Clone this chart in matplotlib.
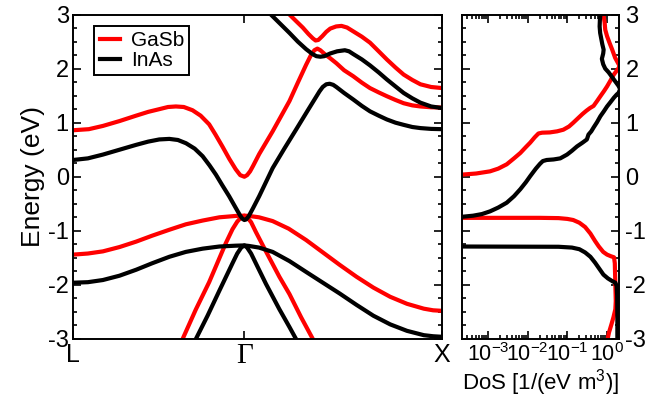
import matplotlib
matplotlib.use("Agg")
import matplotlib.pyplot as plt
import matplotlib.ticker as ticker

# ===================== settings =====================
OUT_FILE = "out.png"
RED = "#ff0000"
BLACK = "#000000"
LW = 3.0

plt.rcParams['font.family'] = ['Liberation Sans', 'DejaVu Sans']
plt.rcParams['mathtext.fontset'] = 'custom'
plt.rcParams['mathtext.rm'] = 'Liberation Sans'
plt.rcParams['mathtext.it'] = 'Liberation Sans:italic'
plt.rcParams['axes.unicode_minus'] = False
# ====================================================

# high-symmetry path L - Gamma - X
K_TICKS = [0.0, 0.866, 1.866]
K_LABELS = ['L', 'Γ', 'X']

# ---- GaSb bands (k, E in eV) ----
gasb_cb_k = [0.000, 0.080, 0.151, 0.235, 0.319, 0.380, 0.436, 0.480, 0.520, 0.560,
             0.604, 0.645, 0.688, 0.720, 0.755, 0.790, 0.822, 0.845, 0.866, 0.880,
             0.895, 0.910, 0.941, 0.975, 1.009, 1.050, 1.094, 1.135, 1.178, 1.204,
             1.220, 1.235, 1.250, 1.275, 1.297, 1.331, 1.370, 1.416, 1.460, 1.501,
             1.545, 1.586, 1.630, 1.671, 1.715, 1.756, 1.810, 1.866]
gasb_cb_e = [0.86, 0.88, 0.94, 1.03, 1.13, 1.20, 1.25, 1.29, 1.30, 1.29,
             1.23, 1.13, 0.97, 0.78, 0.56, 0.33, 0.14, 0.03, 0.00, 0.03,
             0.10, 0.20, 0.42, 0.63, 0.84, 1.11, 1.40, 1.73, 2.07, 2.26,
             2.34, 2.37, 2.34, 2.26, 2.20, 2.10, 1.97, 1.86, 1.74, 1.64,
             1.56, 1.49, 1.42, 1.36, 1.32, 1.30, 1.285, 1.28]

gasb_up_k = [1.060, 1.094, 1.130, 1.161, 1.190, 1.212, 1.226, 1.240, 1.260, 1.280,
             1.300, 1.330, 1.357, 1.385, 1.416, 1.460, 1.501, 1.545, 1.586, 1.630,
             1.671, 1.715, 1.756, 1.810, 1.866]
gasb_up_e = [3.13, 3.00, 2.87, 2.76, 2.64, 2.56, 2.52, 2.53, 2.60, 2.68,
             2.74, 2.78, 2.79, 2.76, 2.69, 2.59, 2.48, 2.32, 2.17, 2.02,
             1.89, 1.79, 1.71, 1.66, 1.64]

gasb_hh_k = [0.000, 0.075, 0.151, 0.235, 0.319, 0.400, 0.487, 0.570, 0.655, 0.740,
             0.822, 0.866, 0.890, 0.940, 1.009, 1.090, 1.178, 1.263, 1.348, 1.433,
             1.518, 1.603, 1.688, 1.773, 1.820, 1.866]
gasb_hh_e = [-1.44, -1.42, -1.38, -1.30, -1.20, -1.09, -0.98, -0.88, -0.81, -0.75,
             -0.725, -0.72, -0.725, -0.75, -0.82, -0.96, -1.17, -1.40, -1.63, -1.85,
             -2.05, -2.22, -2.35, -2.44, -2.47, -2.48]

gasb_lh_k = [0.537, 0.554, 0.620, 0.688, 0.772, 0.806, 0.830, 0.850, 0.866, 0.880,
             0.900, 0.924, 0.975, 1.043, 1.094, 1.153, 1.212, 1.238]
gasb_lh_e = [-3.14, -3.00, -2.46, -1.95, -1.23, -0.97, -0.83, -0.75, -0.72, -0.75,
             -0.84, -1.02, -1.38, -1.85, -2.17, -2.60, -3.00, -3.18]

# ---- InAs bands ----
inas_cb_k = [0.000, 0.075, 0.151, 0.235, 0.319, 0.380, 0.436, 0.487, 0.530, 0.571,
             0.615, 0.655, 0.690, 0.722, 0.755, 0.789, 0.820, 0.845, 0.857, 0.866,
             0.875, 0.888, 0.910, 0.941, 0.975, 1.009, 1.068, 1.127, 1.187, 1.246,
             1.262, 1.280, 1.297, 1.315, 1.331, 1.370, 1.416, 1.460, 1.501, 1.545,
             1.586, 1.630, 1.671, 1.715, 1.756, 1.810, 1.866]
inas_cb_e = [0.31, 0.34, 0.41, 0.50, 0.59, 0.65, 0.69, 0.70, 0.68, 0.62,
             0.52, 0.38, 0.21, 0.04, -0.16, -0.36, -0.56, -0.72, -0.78, -0.80,
             -0.79, -0.73, -0.58, -0.36, -0.10, 0.16, 0.52, 0.87, 1.23, 1.58,
             1.66, 1.71, 1.72, 1.70, 1.66, 1.55, 1.43, 1.31, 1.21, 1.13,
             1.06, 1.00, 0.96, 0.92, 0.90, 0.885, 0.88]

inas_up_k = [0.960, 1.000, 1.047, 1.094, 1.136, 1.178, 1.210, 1.230, 1.250, 1.270,
             1.300, 1.335, 1.374, 1.395, 1.416, 1.460, 1.501, 1.545, 1.586, 1.630,
             1.671, 1.715, 1.756, 1.810, 1.866]
inas_up_e = [3.15, 3.00, 2.83, 2.66, 2.50, 2.36, 2.27, 2.23, 2.22, 2.23,
             2.28, 2.32, 2.34, 2.32, 2.27, 2.17, 2.06, 1.93, 1.80, 1.67,
             1.55, 1.45, 1.37, 1.30, 1.27]

inas_hh_k = [0.000, 0.075, 0.151, 0.235, 0.319, 0.400, 0.487, 0.570, 0.655, 0.740,
             0.822, 0.866, 0.890, 0.940, 1.009, 1.094, 1.178, 1.263, 1.348, 1.433,
             1.518, 1.603, 1.688, 1.773, 1.820, 1.866]
inas_hh_e = [-1.96, -1.95, -1.91, -1.83, -1.72, -1.60, -1.48, -1.39, -1.33, -1.29,
             -1.275, -1.27, -1.28, -1.31, -1.39, -1.56, -1.76, -1.96, -2.16, -2.37,
             -2.57, -2.73, -2.85, -2.93, -2.95, -2.96]

inas_lh_k = [0.604, 0.621, 0.680, 0.738, 0.806, 0.830, 0.850, 0.866, 0.880, 0.900,
             0.924, 0.975, 1.043, 1.094, 1.127, 1.161]
inas_lh_e = [-3.14, -3.00, -2.57, -2.12, -1.60, -1.42, -1.31, -1.27, -1.31, -1.42,
             -1.60, -1.98, -2.45, -2.78, -3.00, -3.25]

# ---- DoS [1/(eV m^3)] vs E ----
gasb_dos_v = [1.5e-4, 2e-2, 6e-2, 0.10, 0.14, 0.20, 0.28, 0.38, 0.50, 0.62,
              0.80, 1.00, 1.25, 1.50, 1.57, 1.62, 1.66, 1.62, 1.45, 1.29,
              1.12, 1.05, 1.00]
gasb_dos_v_e = [-0.76, -0.76, -0.765, -0.78, -0.80, -0.85, -0.93, -1.05, -1.19, -1.29,
                -1.39, -1.44, -1.47, -1.49, -1.60, -2.00, -2.30, -2.45, -2.60, -2.73,
                -2.88, -2.98, -3.10]

gasb_dos_c = [1.5e-4, 2.24e-4, 5e-4, 1.12e-3, 1.8e-3, 2.95e-3, 4.5e-3, 6.5e-3, 9e-3, 1.15e-2,
              1.5e-2, 1.86e-2, 2.3e-2, 3.6e-2, 5.5e-2, 7.9e-2, 0.11, 0.141, 0.19, 0.24,
              0.30, 0.37, 0.457, 0.56, 0.68, 0.83, 1.00, 1.20, 1.48, 1.75,
              1.95, 2.14, 1.60, 1.35, 1.15, 1.00, 0.90, 0.87, 0.81, 0.80]
gasb_dos_c_e = [0.03, 0.04, 0.06, 0.10, 0.15, 0.23, 0.34, 0.44, 0.55, 0.63,
                0.73, 0.80, 0.815, 0.82, 0.84, 0.87, 0.93, 1.00, 1.09, 1.16,
                1.22, 1.27, 1.31, 1.40, 1.49, 1.58, 1.67, 1.77, 1.89, 1.96,
                2.01, 2.03, 2.20, 2.35, 2.48, 2.60, 2.72, 2.85, 3.00, 3.10]

inas_dos_v = [1.5e-4, 6e-2, 0.13, 0.20, 0.28, 0.38, 0.50, 0.65, 0.81, 1.05,
              1.35, 1.62, 1.75, 1.80, 1.82, 1.82]
inas_dos_v_e = [-1.29, -1.295, -1.31, -1.34, -1.40, -1.48, -1.59, -1.71, -1.81, -1.88,
                -1.93, -1.96, -2.02, -2.20, -2.60, -3.10]

inas_dos_c = [1.5e-4, 2.24e-4, 4.2e-4, 7e-4, 1.12e-3, 1.8e-3, 2.95e-3, 4.5e-3, 6.5e-3, 9e-3,
              1.15e-2, 1.6e-2, 2.04e-2, 2.4e-2, 3.0e-2, 4.5e-2, 6.6e-2, 9.8e-2, 0.13, 0.174,
              0.24, 0.31, 0.34, 0.40, 0.457, 0.56, 0.68, 0.83, 1.00, 1.22,
              1.48, 1.75, 1.95, 2.14, 1.95, 1.48, 1.10, 0.90, 0.80, 0.74,
              0.80, 0.82, 0.76, 0.72, 0.67, 0.65, 0.66, 0.68, 0.68]
inas_dos_c_e = [-0.745, -0.74, -0.72, -0.69, -0.64, -0.57, -0.48, -0.36, -0.23, -0.10,
                0.01, 0.15, 0.24, 0.29, 0.31, 0.32, 0.34, 0.41, 0.48, 0.56,
                0.63, 0.69, 0.78, 0.84, 0.91, 1.01, 1.12, 1.21, 1.30, 1.38,
                1.46, 1.52, 1.55, 1.62, 1.68, 1.80, 1.93, 2.00, 2.08, 2.18,
                2.28, 2.35, 2.45, 2.54, 2.66, 2.78, 2.90, 3.00, 3.10]


def style_axis(ax):
    for s in ax.spines.values():
        s.set_linewidth(1.4)
    ax.tick_params(which='both', direction='in', width=1.2, top=True, right=True)
    ax.tick_params(which='major', length=6)
    ax.tick_params(which='minor', length=3.2)


def plot_bands(ax):
    """band structure L - Gamma - X"""
    bands = [
        (gasb_cb_k, gasb_cb_e, RED), (gasb_up_k, gasb_up_e, RED),
        (gasb_hh_k, gasb_hh_e, RED), (gasb_lh_k, gasb_lh_e, RED),
        (inas_cb_k, inas_cb_e, BLACK), (inas_up_k, inas_up_e, BLACK),
        (inas_hh_k, inas_hh_e, BLACK), (inas_lh_k, inas_lh_e, BLACK),
    ]
    handles = {}
    for k, e, c in bands:
        ln, = ax.plot(k, e, color=c, linewidth=LW)
        handles.setdefault(c, ln)

    ax.set_xlim(K_TICKS[0], K_TICKS[-1])
    ax.set_ylim(-3, 3)
    style_axis(ax)
    ax.set_xticks(K_TICKS)
    ax.set_xticklabels(K_LABELS, fontsize=18)
    gam = ax.get_xticklabels()[1]
    gam.set_family(['Liberation Serif', 'DejaVu Serif'])
    gam.set_fontsize(21)
    ax.tick_params(axis='x', pad=3)
    ax.yaxis.set_major_locator(ticker.MultipleLocator(1))
    ax.yaxis.set_minor_locator(ticker.MultipleLocator(0.25))
    ax.tick_params(axis='y', labelsize=17, pad=3)
    ax.set_ylabel("Energy (eV)", fontsize=19, labelpad=2)

    leg = ax.legend([handles[RED], handles[BLACK]], ['GaSb', 'InAs'],
                    loc='upper left', bbox_to_anchor=(0.058, 0.965),
                    borderaxespad=0, fontsize=15, handlelength=1.0,
                    handletextpad=0.5, labelspacing=0.05, borderpad=0.25,
                    fancybox=False, framealpha=1, edgecolor='black')
    leg.get_frame().set_linewidth(1.4)


def plot_dos(ax):
    """density of states, log scale"""
    ax.plot(gasb_dos_v, gasb_dos_v_e, color=RED, linewidth=LW)
    ax.plot(gasb_dos_c, gasb_dos_c_e, color=RED, linewidth=LW)
    ax.plot(inas_dos_v, inas_dos_v_e, color=BLACK, linewidth=LW)
    ax.plot(inas_dos_c, inas_dos_c_e, color=BLACK, linewidth=LW)

    ax.set_xscale('log')
    ax.set_xlim(2.2e-4, 1.95)
    ax.set_ylim(-3, 3)
    style_axis(ax)
    ax.xaxis.set_major_locator(ticker.LogLocator(base=10, numticks=10))
    ax.xaxis.set_minor_locator(ticker.LogLocator(base=10, subs=range(2, 10), numticks=10))
    ax.xaxis.set_minor_formatter(ticker.NullFormatter())
    ax.yaxis.set_major_locator(ticker.MultipleLocator(1))
    ax.yaxis.set_minor_locator(ticker.MultipleLocator(0.25))
    ax.tick_params(axis='y', labelleft=False, labelright=True, labelsize=17, pad=5)
    ax.tick_params(axis='x', labelsize=15.5, pad=3)
    ax.set_xlabel("DoS [1/(eV m$^{3}$)]", fontsize=16, labelpad=1)


def main():
    fig = plt.figure(figsize=(6.7, 4.04), dpi=100)
    ax1 = fig.add_axes([0.109, 0.161, 0.551, 0.803])
    ax2 = fig.add_axes([0.6896, 0.161, 0.2336, 0.803])
    plot_bands(ax1)
    plot_dos(ax2)
    fig.savefig(OUT_FILE, dpi=100)
    plt.close(fig)


if __name__ == "__main__":
    main()
